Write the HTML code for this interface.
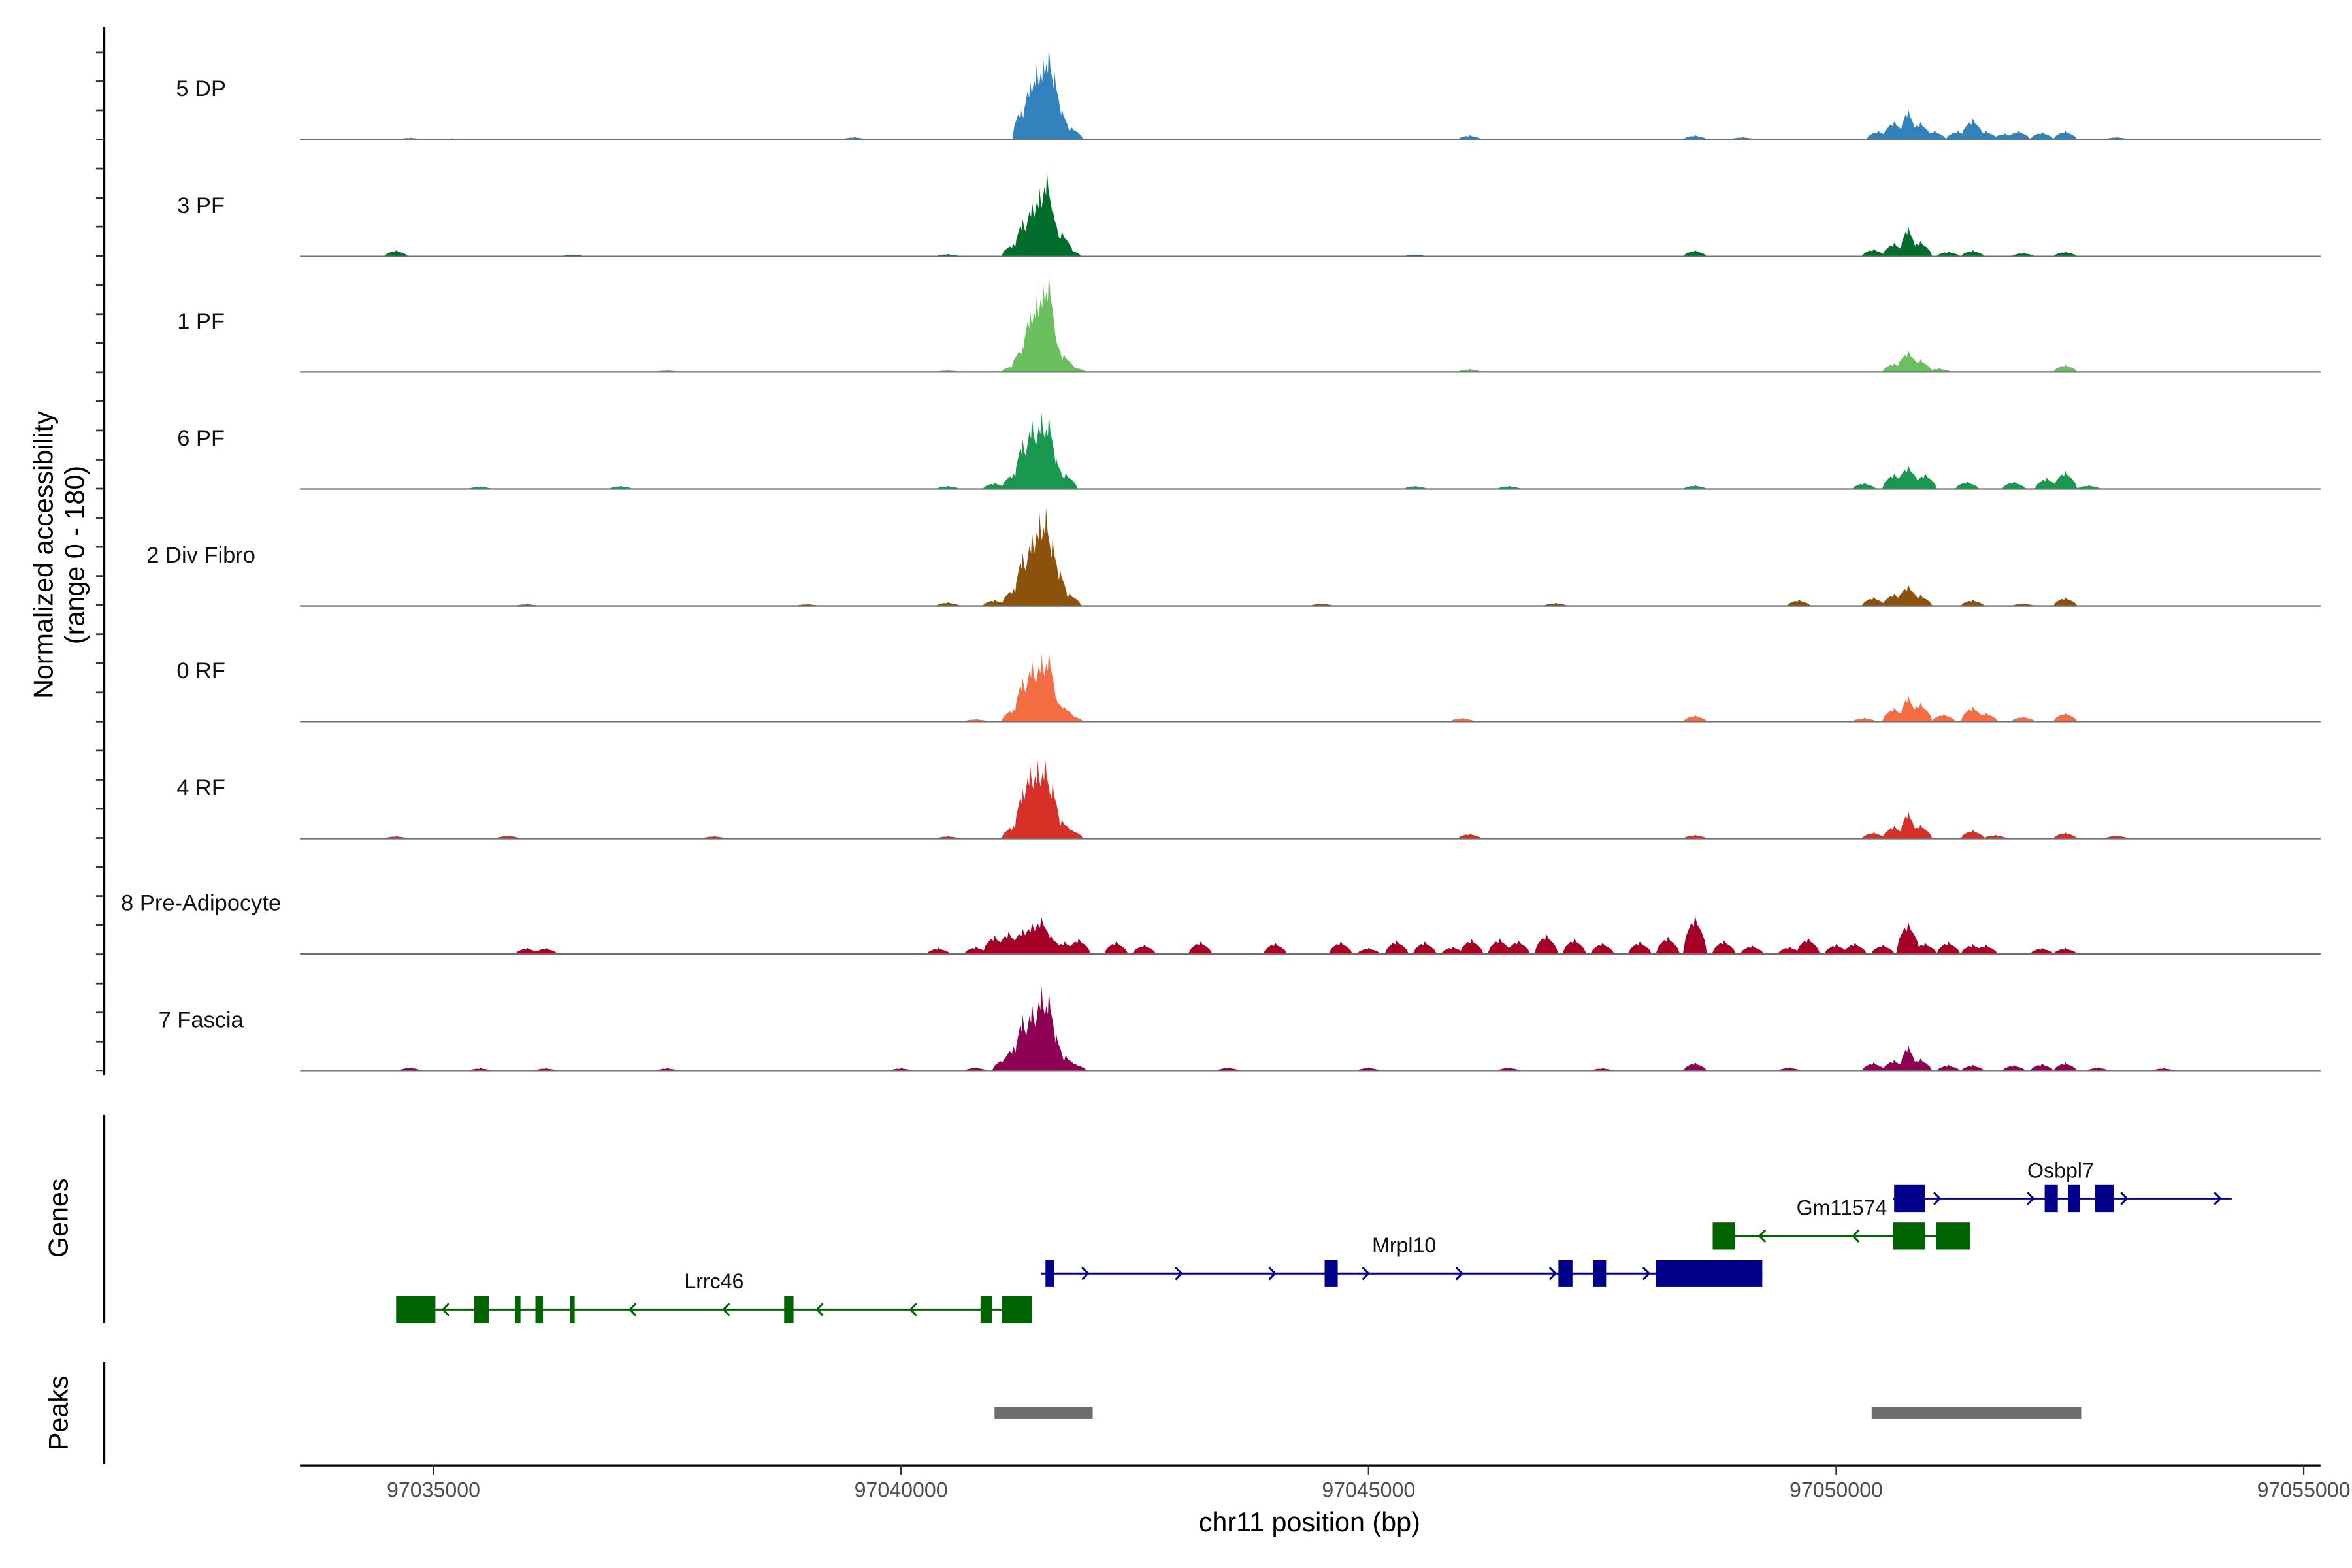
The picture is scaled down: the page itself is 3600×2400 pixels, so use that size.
<!DOCTYPE html>
<html><head><meta charset="utf-8"><style>
html,body{margin:0;padding:0;background:#fff}
svg{display:block}
text{font-family:"Liberation Sans",Arial,sans-serif}
</style></head><body>
<svg id="chart" width="3600" height="2400" viewBox="0 0 1568 1045.33" preserveAspectRatio="none" xmlns="http://www.w3.org/2000/svg">
<rect width="1568" height="1046" fill="#fff"/>
<g id="tracks"></g>
<g id="genes"></g>
<g id="peaks"></g>
<g id="axes"></g>
</svg>
<script>
// ---- data (positions in kb offset from 97,000,000; values on 0-180 scale) ----
const trackNames = ["5 DP","3 PF","1 PF","6 PF","2 Div Fibro","0 RF","4 RF","8 Pre-Adipocyte","7 Fascia"];
const trackColors = ["#3182bd","#006d2c","#6abf5f","#1a9850","#8c510a","#f46d43","#d73027","#a50026","#8e0152"];
const peaks5DP = [[34.75,3],[35.2,2],[39.5,4],[41.28,50],[41.38,96],[41.45,120],[41.52,132],[41.58,151],[41.64,110],[41.72,50],[41.82,20],[46.08,7],[48.49,7],[49.0,4],[50.45,14],[50.62,30],[50.77,50],[50.9,28],[51.05,14],[51.3,14],[51.46,34],[51.6,14],[51.8,10],[51.95,14],[52.2,12],[52.45,14],[53.0,4]];
const peaks3PF = [[34.6,10],[36.5,3],[40.5,4],[41.2,20],[41.3,60],[41.4,90],[41.48,110],[41.56,139],[41.62,80],[41.72,40],[41.8,12],[45.5,3],[48.49,10],[50.4,12],[50.62,22],[50.77,50],[50.9,25],[51.2,8],[51.46,10],[52.0,6],[52.45,8]];
const peaks1PF = [[37.5,3],[40.5,3],[41.2,10],[41.3,40],[41.38,100],[41.45,120],[41.52,145],[41.58,160],[41.65,60],[41.74,28],[41.85,8],[46.08,5],[50.62,14],[50.77,34],[50.9,20],[51.1,6],[52.45,12]];
const peaks6PF = [[35.5,4],[37.0,5],[40.5,5],[41.0,10],[41.2,25],[41.3,80],[41.4,115],[41.5,125],[41.58,120],[41.66,50],[41.76,25],[45.5,5],[46.5,5],[48.49,6],[50.3,10],[50.62,25],[50.77,38],[50.95,25],[51.4,12],[51.9,12],[52.25,18],[52.45,29],[52.7,6]];
const peaks2DF = [[36.0,3],[39.0,3],[40.5,6],[41.0,10],[41.2,28],[41.3,85],[41.4,120],[41.48,150],[41.55,158],[41.62,110],[41.7,60],[41.8,20],[44.5,4],[47.0,5],[49.6,10],[50.4,14],[50.62,20],[50.77,34],[50.9,18],[51.46,10],[52.0,4],[52.45,14]];
const peaks0RF = [[40.8,4],[41.2,20],[41.3,70],[41.4,100],[41.5,110],[41.58,115],[41.65,40],[41.74,25],[41.82,10],[46.0,6],[48.49,10],[50.3,6],[50.62,22],[50.77,43],[50.9,30],[51.15,12],[51.46,24],[51.6,14],[52.0,8],[52.45,14]];
const peaks4RF = [[34.6,4],[35.8,5],[38.0,4],[40.5,4],[41.2,20],[41.3,80],[41.38,120],[41.46,125],[41.54,132],[41.62,90],[41.72,30],[41.82,15],[46.08,8],[48.49,6],[50.4,10],[50.62,20],[50.77,45],[50.9,22],[51.46,14],[51.7,6],[52.45,10],[53.0,5]];
const peaksPreAd = [[36.0,10],[36.2,10],[40.4,10],[40.8,12],[41.0,30],[41.15,36],[41.3,40],[41.4,50],[41.5,60],[41.6,30],[41.75,20],[41.9,25],[42.3,20],[42.6,15],[43.2,20],[44.0,18],[44.7,20],[45.0,10],[45.3,22],[45.6,20],[45.9,12],[46.1,24],[46.4,25],[46.6,22],[46.9,32],[47.2,25],[47.5,18],[47.9,20],[48.2,28],[48.49,62],[48.8,22],[49.1,14],[49.5,12],[49.7,26],[50.0,16],[50.2,18],[50.5,15],[50.77,52],[50.95,18],[51.2,20],[51.46,16],[51.6,15],[52.2,10],[52.45,10]];
const peaksFascia = [[34.75,6],[35.5,5],[36.2,5],[37.5,5],[40.0,5],[40.8,6],[41.1,20],[41.2,40],[41.3,90],[41.4,110],[41.5,139],[41.58,130],[41.66,60],[41.76,25],[41.86,12],[43.5,6],[45.0,6],[46.5,6],[47.5,5],[48.49,14],[49.5,6],[50.4,14],[50.62,18],[50.77,43],[50.9,20],[51.2,10],[51.46,10],[51.9,10],[52.2,12],[52.45,14],[52.8,6],[53.5,5]];
const trackPeaks = [peaks5DP,peaks3PF,peaks1PF,peaks6PF,peaks2DF,peaks0RF,peaks4RF,peaksPreAd,peaksFascia];
const xTicks = [97035000,97040000,97045000,97050000,97055000];
const geneNames = ["Lrrc46","Mrpl10","Gm11574","Osbpl7"];
const geneStrands = [-1,1,-1,1];
const geneRanges = [[34.60,41.40],[41.50,49.21],[48.68,51.43],[50.61,54.23]];
const geneExons = [
 [[34.60,35.02],[35.43,35.59],[35.87,35.93],[36.09,36.17],[36.46,36.51],[38.75,38.85],[40.85,40.97],[41.08,41.40]],
 [[41.545,41.64],[44.53,44.67],[47.03,47.18],[47.40,47.54],[48.07,49.21]],
 [[48.68,48.92],[50.61,50.95],[51.07,51.43]],
 [[50.62,50.95],[52.23,52.37],[52.48,52.61],[52.77,52.97]]
];
const geneLabelKb = [38.0,45.38,50.06,52.40];
const peakRegions = [[41.0,42.05],[50.38,52.62]];

// ---- scales ----
const X0=289, PXKB=62.34;
function xs(kb){return X0+(kb-35)*PXKB;}
const baselines=[93,171,248,326,404,481,559,636,714];
function ys(v,i){return baselines[i]-v/180*75;}
const NS="http://www.w3.org/2000/svg";
function mk(tag,attrs,parent){const e=document.createElementNS(NS,tag);for(const k in attrs)e.setAttribute(k,attrs[k]);parent.appendChild(e);return e;}
const gT=document.getElementById('tracks');
trackNames.forEach((nm,i)=>{
  const g=mk('g',{},gT);
  
  
  const broad=(i===7);
  trackPeaks[i].forEach(p=>{
    const w=broad?0.13:(p[1]>40?0.09:0.13);
    const pts=[[xs(p[0]-w),ys(0,i)],[xs(p[0]-w*0.75),ys(p[1]*0.45,i)],[xs(p[0]-w*0.3),ys(p[1]*0.8,i)],[xs(p[0]-w*0.1),ys(p[1]*0.7,i)],[xs(p[0]),ys(p[1],i)],[xs(p[0]+w*0.2),ys(p[1]*0.75,i)],[xs(p[0]+w*0.5),ys(p[1]*0.6,i)],[xs(p[0]+w*0.8),ys(p[1]*0.35,i)],[xs(p[0]+w),ys(0,i)]];
    const pg=mk('polygon',{points:pts.map(q=>q.join(',')).join(' '),fill:trackColors[i]},g);
    
    
  });
  const bl=mk('line',{x1:200,x2:1547,y1:baselines[i],y2:baselines[i],stroke:'#6e6e6e','stroke-width':1},g);
  
  
  const t=mk('text',{x:134,y:baselines[i]-29,'font-size':15,'text-anchor':'middle',fill:'#111'},g);
  t.textContent=nm;
  
  
});
// genes
const gG=document.getElementById('genes');
const geneY=[873,849,824,799];
geneNames.forEach((nm,i)=>{
  const col=(i%2===0)?'#006400':'#00008b';
  const g=mk('g',{},gG);
  
  
  const y=geneY[i], r=geneRanges[i];
  mk('line',{x1:xs(r[0]),x2:xs(r[1]),y1:y,y2:y,stroke:col,'stroke-width':1.3},g);
  for(let kb=r[0]+0.5;kb<r[1]-0.1;kb+=1.0){
    const x=xs(kb), d=geneStrands[i]*4;
    mk('polyline',{points:`${x-d},${y-4} ${x},${y} ${x-d},${y+4}`,fill:'none',stroke:col,'stroke-width':1.3},g);
  }
  geneExons[i].forEach(e=>{
    mk('rect',{x:xs(e[0]),y:y-9,width:Math.max(3,xs(e[1])-xs(e[0])),height:18,fill:col},g);
  });
  const t=mk('text',{x:xs(geneLabelKb[i]),y:y-14,'font-size':14,'text-anchor':'middle',fill:'#111'},g);
  t.textContent=nm;
  
  
});
// peaks
const gP=document.getElementById('peaks');
peakRegions.forEach(p=>{
  const r=mk('rect',{x:xs(p[0]),y:938,width:xs(p[1])-xs(p[0]),height:8,fill:'#6d6d6d'},gP);
  
  
});
// axes
const gA=document.getElementById('axes');
function L(a,nm){const e=mk('line',Object.assign({stroke:'#000','stroke-width':1.4},a),gA);return e;}
L({x1:69.5,x2:69.5,y1:18,y2:717},'y-axis-line');
for(let y=93-19.4*3;y<=716;y+=19.4){L({x1:64,x2:69,y1:y,y2:y,stroke:'#333','stroke-width':1.2},'y-tick');}
L({x1:69.5,x2:69.5,y1:743,y2:882},'genes-axis-line');
L({x1:69.5,x2:69.5,y1:908,y2:976},'peaks-axis-line');
L({x1:200,x2:1547,y1:977,y2:977},'x-axis-line');
xTicks.forEach(v=>{
  const x=xs((v-97000000)/1000);
  L({x1:x,x2:x,y1:977,y2:983,stroke:'#333','stroke-width':1},'x-tick');
  const t=mk('text',{x:x,y:998,'font-size':14,'text-anchor':'middle',fill:'#4d4d4d'},gA);
  t.textContent=v;
  
  
});
function T(txt,a,nm){const t=mk('text',a,gA);t.textContent=txt;return t;}
T('chr11 position (bp)',{x:873,y:1021,'font-size':18,'text-anchor':'middle',fill:'#000'},'x-axis-title');
T('Normalized accessibility',{x:0,y:0,'font-size':18,'text-anchor':'middle',transform:'translate(35,370) rotate(-90)',fill:'#000'},'y-axis-title');
T('(range 0 - 180)',{x:0,y:0,'font-size':18,'text-anchor':'middle',transform:'translate(56,370) rotate(-90)',fill:'#000'},'y-axis-subtitle');
T('Genes',{x:0,y:0,'font-size':18,'text-anchor':'middle',transform:'translate(45,812) rotate(-90)',fill:'#000'},'genes-panel-title');
T('Peaks',{x:0,y:0,'font-size':18,'text-anchor':'middle',transform:'translate(45,942) rotate(-90)',fill:'#000'},'peaks-panel-title');
</script>
</body></html>
